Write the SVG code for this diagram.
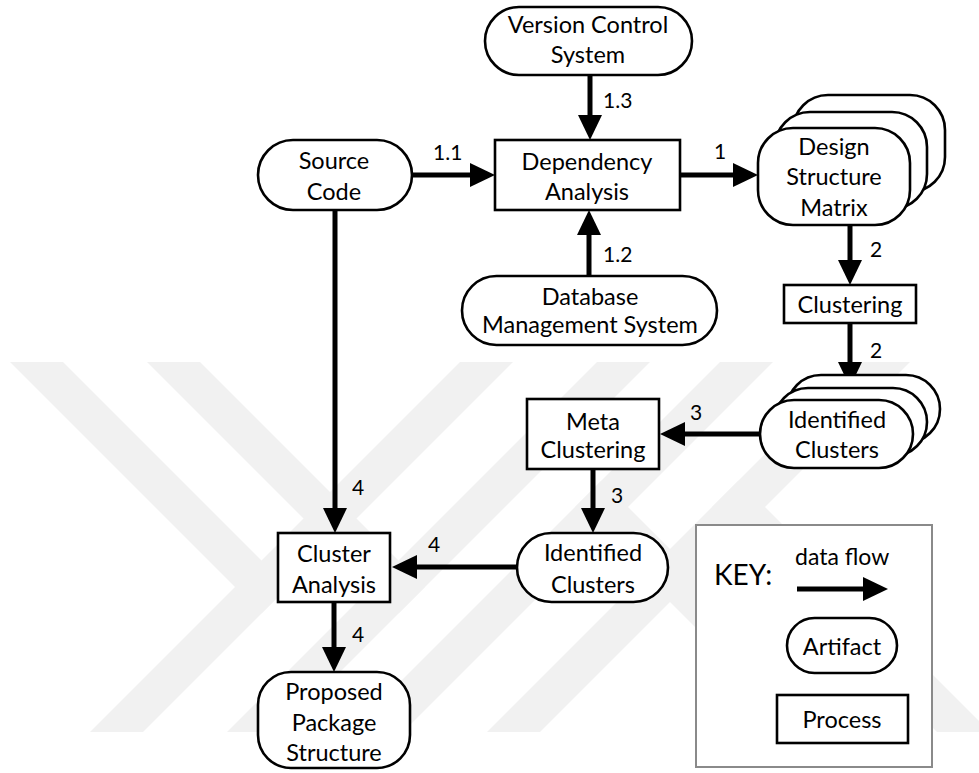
<svg xmlns="http://www.w3.org/2000/svg" width="979" height="773" viewBox="0 0 979 773">
<defs>
<style>
.t{font-family:Lato,"Liberation Sans",sans-serif;font-size:23.5px;fill:#000;text-anchor:middle}
.lbl{font-family:Lato,"Liberation Sans",sans-serif;font-size:21px;fill:#000}
.n{fill:#fff;stroke:#000;stroke-width:2.6}
.e{fill:none;stroke:#000;stroke-width:5;marker-end:url(#ah)}
.wm{fill:#f1f1f1}
</style>
<marker id="ah" markerUnits="userSpaceOnUse" markerWidth="26" markerHeight="26" refX="0" refY="12" orient="auto" overflow="visible">
<path d="M0,0 L25,12 L0,24 Z" fill="#000"/>
</marker>
</defs>
<rect width="979" height="773" fill="#fff"/>
<g id="watermark">
<polygon class="wm" points="10,362 63,362 288,587 261.5,613.5"/>
<polygon class="wm" points="90,732 143,732 513,362 460,362"/>
<polygon class="wm" points="147,362 200,362 425,587 398.5,613.5"/>
<polygon class="wm" points="227,732 280,732 650,362 597,362"/>
<polygon class="wm" points="990,732 937,732 712,507 738.5,480.5"/>
<polygon class="wm" points="910,362 857,362 487,732 540,732"/>
<polygon class="wm" points="853,732 800,732 575,507 601.5,480.5"/>
<polygon class="wm" points="773,362 720,362 350,732 403,732"/>
</g>
<g id="connectors">
<path class="e" d="M590,75 V115"/>
<path class="e" d="M412,175 H470"/>
<path class="e" d="M589,276 V235"/>
<path class="e" d="M680,175 H733"/>
<path class="e" d="M850,225 V260"/>
<path class="e" d="M850,323 V362"/>
<path class="e" d="M760,434 H685"/>
<path class="e" d="M593,469 V508"/>
<path class="e" d="M517,567 H417"/>
<path class="e" d="M334,602 V647"/>
<path class="e" d="M335,210 V508"/>
<text class="lbl" x="603" y="108">1.3</text>
<text class="lbl" x="433" y="160">1.1</text>
<text class="lbl" x="714" y="159">1</text>
<text class="lbl" x="603" y="262">1.2</text>
<text class="lbl" x="870" y="257">2</text>
<text class="lbl" x="870" y="358">2</text>
<text class="lbl" x="690" y="420">3</text>
<text class="lbl" x="611" y="503">3</text>
<text class="lbl" x="352" y="495">4</text>
<text class="lbl" x="428" y="552">4</text>
<text class="lbl" x="352" y="642">4</text>
</g>
<g id="vcs">
<rect class="n" x="485" y="7" width="207" height="68" rx="34"/>
<text class="t" x="588" y="33">Version Control</text>
<text class="t" x="588" y="63">System</text>
</g>
<g id="source">
<rect class="n" x="258" y="140" width="154" height="70" rx="35"/>
<text class="t" x="334" y="169">Source</text>
<text class="t" x="334" y="200">Code</text>
</g>
<g id="dependency">
<rect class="n" x="495" y="140" width="185" height="70"/>
<text class="t" x="587" y="170">Dependency</text>
<text class="t" x="587" y="200">Analysis</text>
</g>
<g id="database">
<rect class="n" x="462" y="276" width="255" height="69" rx="34.5"/>
<text class="t" x="590" y="305">Database</text>
<text class="t" x="590" y="333">Management System</text>
</g>
<g id="dsm">
<rect class="n" x="793" y="95" width="152" height="97" rx="35"/>
<rect class="n" x="775" y="112" width="152" height="97" rx="35"/>
<rect class="n" x="758" y="128" width="152" height="97" rx="35"/>
<text class="t" x="834" y="155">Design</text>
<text class="t" x="834" y="185">Structure</text>
<text class="t" x="834" y="216">Matrix</text>
</g>
<g id="clustering">
<rect class="n" x="784" y="285" width="132" height="38"/>
<text class="t" x="850" y="313">Clustering</text>
</g>
<g id="clusters1">
<rect class="n" x="787" y="375" width="153" height="68" rx="34"/>
<rect class="n" x="774" y="388" width="153" height="68" rx="34"/>
<rect class="n" x="760" y="400" width="153" height="68" rx="34"/>
<text class="t" x="837" y="428">Identified</text>
<text class="t" x="837" y="458">Clusters</text>
</g>
<g id="meta">
<rect class="n" x="527" y="399" width="132" height="70"/>
<text class="t" x="593" y="430">Meta</text>
<text class="t" x="593" y="458">Clustering</text>
</g>
<g id="clusters2">
<rect class="n" x="517" y="533" width="151" height="69" rx="34.5"/>
<text class="t" x="593" y="561">Identified</text>
<text class="t" x="593" y="593">Clusters</text>
</g>
<g id="analysis">
<rect class="n" x="278" y="533" width="112" height="69"/>
<text class="t" x="334" y="562">Cluster</text>
<text class="t" x="334" y="593">Analysis</text>
</g>
<g id="proposed">
<rect class="n" x="258" y="672" width="152" height="96" rx="33"/>
<text class="t" x="334" y="700">Proposed</text>
<text class="t" x="334" y="731">Package</text>
<text class="t" x="334" y="761">Structure</text>
</g>
<g id="key">
<rect x="696" y="525" width="236" height="242" fill="#fff" stroke="#8a8a8a" stroke-width="2"/>
<text x="714" y="585" style="font-family:Lato,'Liberation Sans',sans-serif;font-size:28px">KEY:</text>
<text class="lbl" x="795" y="565" style="font-size:23px">data flow</text>
<path class="e" d="M797,589 H863"/>
<rect class="n" x="787" y="618" width="110" height="55" rx="27.5"/>
<text class="t" x="842" y="655">Artifact</text>
<rect class="n" x="777" y="695" width="131" height="48"/>
<text class="t" x="842" y="728">Process</text>
</g>
</svg>
